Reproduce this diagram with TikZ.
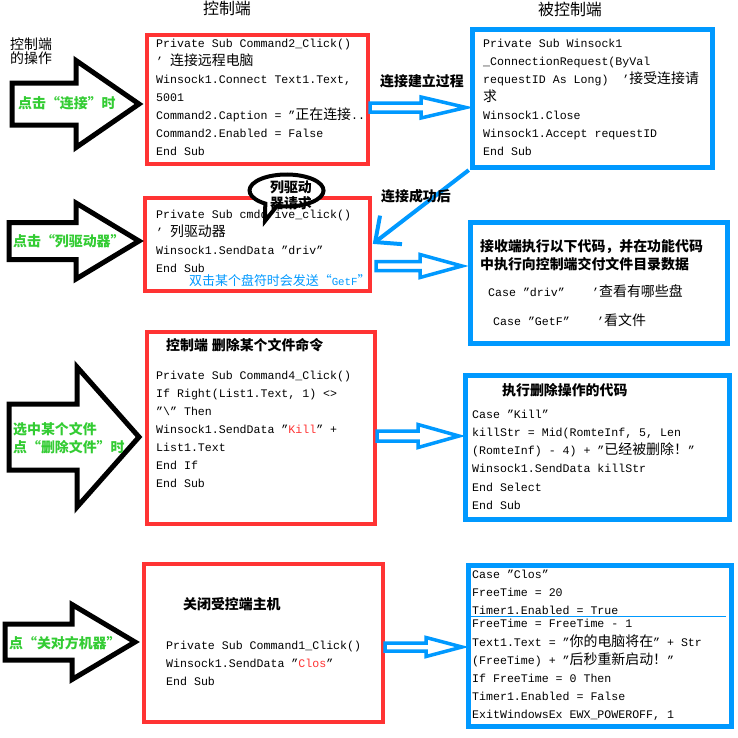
\documentclass[tikz,border=0pt]{standalone}
\usepackage{fontspec}
\setmainfont{Liberation Mono}
\newfontfamily\cjk[Scale=1.2]{Noto Sans CJK SC}
\usetikzlibrary{arrows.meta}
\definecolor{myred}{RGB}{255,51,51}
\definecolor{myblue}{RGB}{0,153,255}
\definecolor{mygreen}{RGB}{51,204,51}
\newcommand\codefont{\fontsize{11.6}{14}\selectfont}
\newcommand\hdfont{\fontsize{13.3}{16}\selectfont\cjk}
\newcommand\harrow[7]{\draw[#1] ({#2},{#3-#4}) -- ({#5},{#3-#4}) -- ({#5},{#3-#6}) -- ({#7},{#3}) -- ({#5},{#3+#6}) -- ({#5},{#3+#4}) -- ({#2},{#3+#4}) -- cycle;}
\tikzset{
  code/.style={anchor=base west, inner sep=0pt, font=\codefont},
  lbl/.style={anchor=west, inner sep=0pt, font=\codefont\cjk},
  blbl/.style={anchor=west, inner sep=0pt, font=\codefont\cjk\bfseries},
  glbl/.style={anchor=west, inner sep=0pt, font=\codefont\cjk\bfseries, text=mygreen},
  redbox/.style={draw=myred, line width=4pt, anchor=north west, inner sep=0pt},
  bluebox/.style={draw=myblue, line width=5pt, anchor=north west, inner sep=0pt},
  blackarr/.style={draw=black, line width=5pt},
  bluearr/.style={draw=myblue, line width=3.5pt},
  diag/.style={draw=myblue, line width=4pt, -{Straight Barb[length=20pt,width=36pt]}}
}
\begin{document}
\begin{tikzpicture}[x=1pt,y=-1pt]
\useasboundingbox[fill=white] (0,0) rectangle (738,737);

% headers
\node[anchor=center, inner sep=0pt, font=\hdfont] (h1) at (227,8.5) {控制端};
\node[anchor=center, inner sep=0pt, font=\hdfont] (h2) at (570,9) {被控制端};
\node[lbl] (op1) at (10,44.5) {控制端};
\node[lbl] (op2) at (10,58.5) {的操作};

% boxes
\node[redbox, minimum width=221pt, minimum height=129pt] (r1) at (145,33) {};
\node[bluebox, minimum width=240pt, minimum height=138pt] (b2) at (469.5,26.5) {};
\node[redbox, minimum width=225pt, minimum height=93pt] (r2) at (143,196) {};
\node[bluebox, minimum width=257pt, minimum height=121pt] (b3) at (467.5,219.5) {};
\node[redbox, minimum width=228pt, minimum height=192pt] (r3) at (145,330) {};
\node[bluebox, minimum width=264pt, minimum height=144pt] (b4) at (462.5,372.5) {};
\node[redbox, minimum width=239pt, minimum height=158pt] (r4) at (142,562) {};
\node[bluebox, minimum width=263pt, minimum height=161pt] (b5) at (465.5,562.5) {};
\draw[myblue, line width=1.5pt] (468,616.7) -- (726,616.7);

% black arrows
\harrow{blackarr}{12}{104}{21}{76}{43.5}{139}
\harrow{blackarr}{9}{241}{18.5}{76}{38}{139}
\harrow{blackarr}{9}{437}{33}{77}{70}{139}
\harrow{blackarr}{5}{642}{18}{72}{37.5}{135}
\node[glbl] (g1) at (18,103) {点击“连接”时};
\node[glbl] (g2) at (13,241) {点击“列驱动器”};
\node[glbl] (g3a) at (13,429) {选中某个文件};
\node[glbl] (g3b) at (13,447) {点“删除文件”时};
\node[glbl] (g4) at (9,643) {点“关对方机器”};

% blue hollow arrows
\harrow{bluearr}{370}{107.5}{4.5}{421}{10.5}{466}
\harrow{bluearr}{376}{266}{4.5}{420}{11.5}{462}
\harrow{bluearr}{377}{436}{5}{418}{11.5}{459}
\harrow{bluearr}{385}{647}{4}{426}{9.5}{462}
\node[blbl] (lb1) at (380,81) {连接建立过程};

% box r1 text
\node[code] (r1a) at (156,47.5) {Private Sub Command2\_Click()};
\node[code] (r1b) at (156,65.5) {’ {\cjk 连接远程电脑}};
\node[code] (r1c) at (156,83.5) {Winsock1.Connect Text1.Text,};
\node[code] (r1d) at (156,101.5) {5001};
\node[code] (r1e) at (156,119.5) {Command2.Caption = "{\cjk 正在连接}..};
\node[code] (r1f) at (156,137.5) {Command2.Enabled = False};
\node[code] (r1g) at (156,155.5) {End Sub};

% box b2 text
\node[code] (b2a) at (483,47.5) {Private Sub Winsock1};
\node[code] (b2b) at (483,65.5) {\_ConnectionRequest(ByVal};
\node[code] (b2c) at (483,83.5) {requestID As Long)\ \ ’{\cjk 接受连接请}};
\node[code] (b2d) at (483,101.5) {{\cjk 求}};
\node[code] (b2e) at (483,119.5) {Winsock1.Close};
\node[code] (b2f) at (483,137.5) {Winsock1.Accept requestID};
\node[code] (b2g) at (483,155.5) {End Sub};

% box r2 text
\node[code] (r2a) at (156,218.5) {Private Sub cmddrive\_click()};
\node[code] (r2b) at (156,236.5) {’ {\cjk 列驱动器}};
\node[code] (r2c) at (156,254.5) {Winsock1.SendData "driv"};
\node[code] (r2d) at (156,272.5) {End Sub};
\node[code, font=\fontsize{10.8}{13}\selectfont, text=myblue] (r2e) at (189,285.5) {{\cjk 双击某个盘符时会发送“}GetF{\cjk ”}};

% speech bubble
\draw[black, line width=4pt, fill=white] (265,221) -- (265.3,203.6) arc[start angle=125, end angle=465, x radius=37, y radius=16] -- cycle;
\node[blbl, anchor=center] (bub1) at (291,187) {列驱动};
\node[blbl, anchor=center] (bub2) at (291,203) {器请求};

% diagonal connector (under its label)
\draw[diag, shorten <=1pt, shorten >=1pt] (b2.south west) -- (r2.east);
\node[blbl] (lb2) at (381,196) {连接成功后};

% box b3 text
\node[blbl] (b3a) at (480,247) {接收端执行以下代码，并在功能代码};
\node[blbl] (b3b) at (480,264) {中执行向控制端交付文件目录数据};
\node[code] (b3c) at (488,296.5) {Case "driv"};
\node[code] (b3d) at (592,296.5) {’{\cjk 查看有哪些盘}};
\node[code] (b3e) at (493,325.5) {Case "GetF"};
\node[code] (b3f) at (597,325.5) {’{\cjk 看文件}};

% box r3 text
\node[blbl] (r3t) at (166,345) {控制端\hspace{4pt}删除某个文件命令};
\node[code] (r3a) at (156,379.5) {Private Sub Command4\_Click()};
\node[code] (r3b) at (156,397.5) {If Right(List1.Text, 1) <>};
\node[code] (r3c) at (156,415.5) {"\textbackslash" Then};
\node[code] (r3d) at (156,433.5) {Winsock1.SendData "\textcolor{myred}{Kill}" +};
\node[code] (r3e) at (156,451.5) {List1.Text};
\node[code] (r3f) at (156,469.5) {End If};
\node[code] (r3g) at (156,487.5) {End Sub};

% box b4 text
\node[blbl] (b4t) at (502,390) {执行删除操作的代码};
\node[code] (b4a) at (472,418) {Case "Kill"};
\node[code] (b4b) at (472,436.3) {killStr = Mid(RomteInf, 5, Len};
\node[code] (b4c) at (472,454.6) {(RomteInf) - 4) + "{\cjk 已经被删除！}"};
\node[code] (b4d) at (472,472.9) {Winsock1.SendData killStr};
\node[code] (b4e) at (472,491.2) {End Select};
\node[code] (b4f) at (472,509.5) {End Sub};

% box r4 text
\node[blbl] (r4t) at (183,604) {关闭受控端主机};
\node[code] (r4a) at (166,649.5) {Private Sub Command1\_Click()};
\node[code] (r4b) at (166,667.5) {Winsock1.SendData "\textcolor{myred}{Clos}"};
\node[code] (r4c) at (166,685.5) {End Sub};

% box b5 text
\node[code] (b5a) at (472,578.5) {Case "Clos"};
\node[code] (b5b) at (472,596.2) {FreeTime = 20};
\node[code] (b5c) at (472,614.5) {Timer1.Enabled = True};
\node[code] (b5d) at (472,627.8) {FreeTime = FreeTime - 1};
\node[code] (b5e) at (472,646.2) {Text1.Text = "{\cjk 你的电脑将在}" + Str};
\node[code] (b5f) at (472,664.5) {(FreeTime) + "{\cjk 后秒重新启动！}"};
\node[code] (b5g) at (472,682.8) {If FreeTime = 0 Then};
\node[code] (b5h) at (472,700.5) {Timer1.Enabled = False};
\node[code] (b5i) at (472,718.5) {ExitWindowsEx EWX\_POWEROFF, 1};
\end{tikzpicture}
\end{document}
